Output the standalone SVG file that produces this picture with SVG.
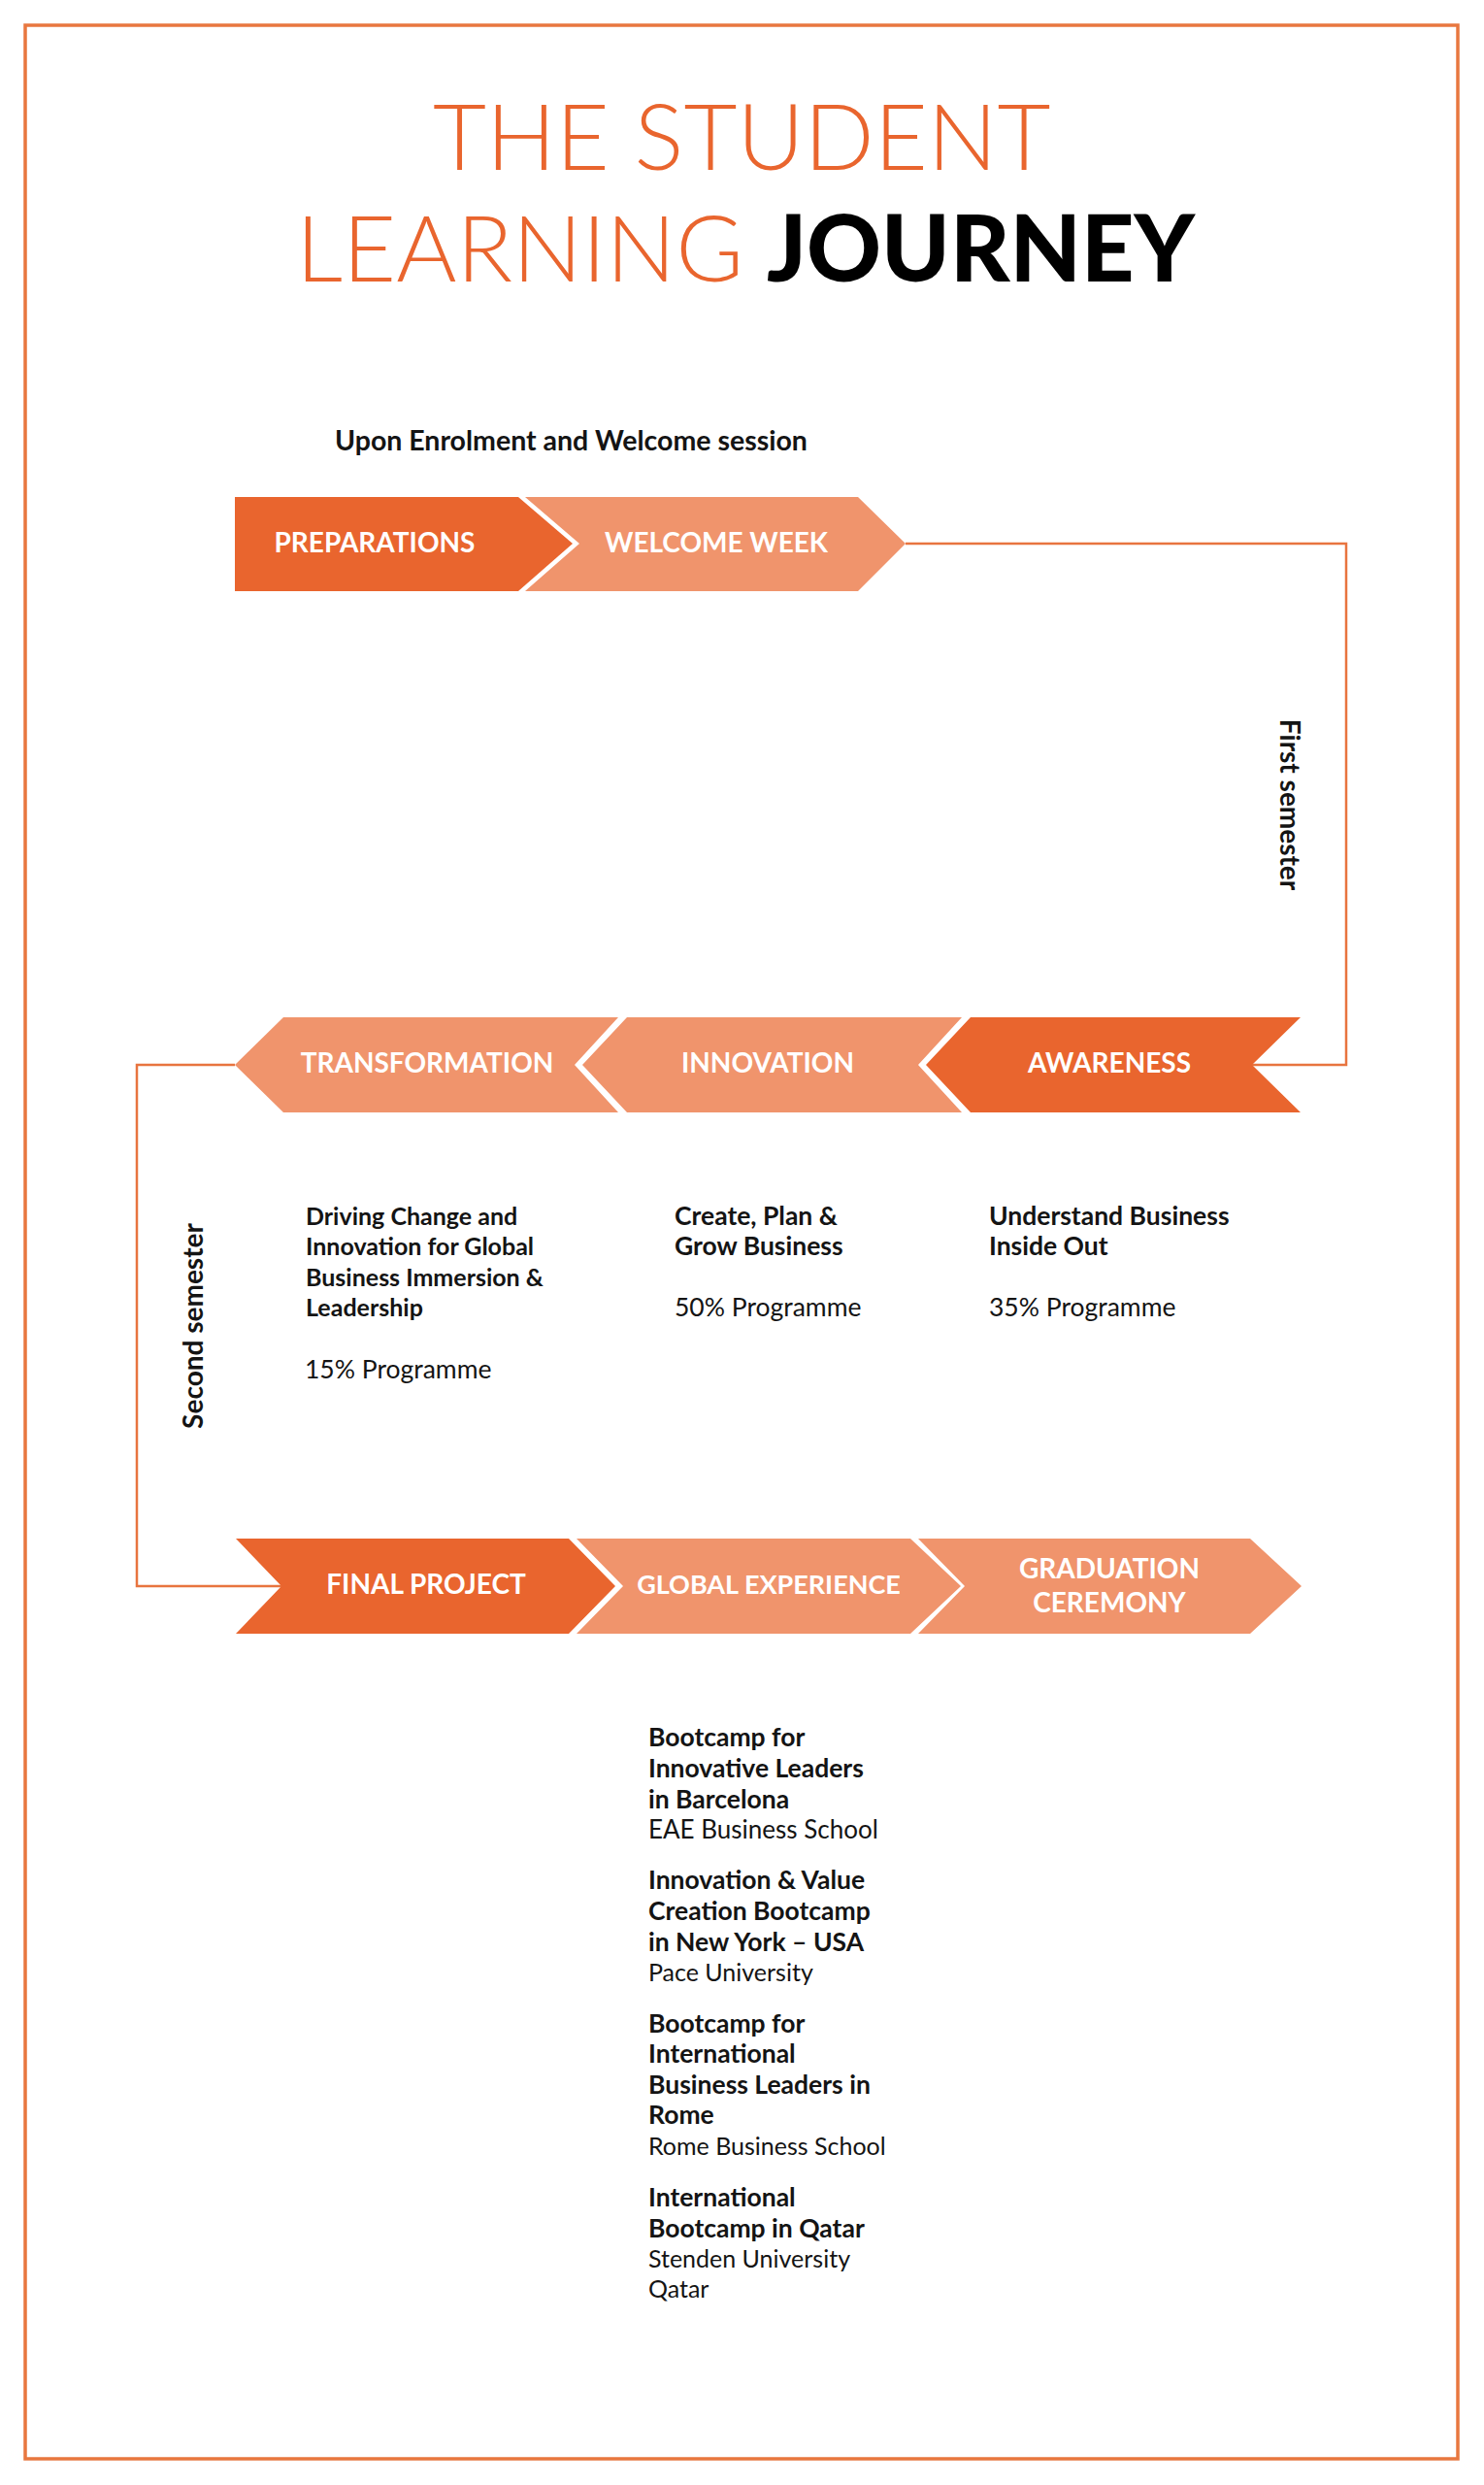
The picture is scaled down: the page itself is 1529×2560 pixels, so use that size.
<svg xmlns="http://www.w3.org/2000/svg" width="1529" height="2560" viewBox="0 0 1529 2560">
<style>
.dark{fill:#E9652E}
.light{fill:#F0946C}
.lbl{font-family:Lato,"Noto Sans",sans-serif;font-weight:700;font-size:28px;fill:#ffffff;text-anchor:middle}
.b{font-family:Lato,"Noto Sans",sans-serif;font-weight:700;font-size:25px;fill:#141414}
.b2{font-family:Lato,"Noto Sans",sans-serif;font-weight:700;font-size:26.5px;fill:#141414}
.r{font-family:Lato,"Noto Sans",sans-serif;font-weight:400;font-size:25px;fill:#141414}
.r2{font-family:Lato,"Noto Sans",sans-serif;font-weight:400;font-size:26.5px;fill:#141414}
.conn{fill:none;stroke:#E8743F;stroke-width:2.5}
</style>
<rect x="26" y="26" width="1476" height="2507" fill="#ffffff" stroke="#E8773F" stroke-width="3.5"/>
<g id="title">
<text x="446" y="175" font-family="Lato,'Noto Sans',sans-serif" font-weight="300" font-size="95" fill="#E9652E">THE STUDENT</text>
<text x="305" y="290" font-family="Lato,'Noto Sans',sans-serif" font-weight="300" font-size="95" fill="#E9652E">LEARNING</text>
<text x="790" y="290" font-family="Lato,'Noto Sans',sans-serif" font-weight="900" font-size="95" fill="#000000">JOURNEY</text>
</g>
<text id="enrolment" class="b" x="345" y="464" style="font-size:28.5px">Upon Enrolment and Welcome session</text>
<g id="connectors">
<path class="conn" d="M933,560 H1387 V1097 H1290"/>
<path class="conn" d="M242,1097 H141 V1634 H290"/>
</g>
<g id="preparations">
<polygon class="dark" points="242,512 534,512 590,560 534,609 242,609"/>
<text class="lbl" x="386" y="569">PREPARATIONS</text>
</g>
<g id="welcome-week">
<polygon class="light" points="541,512 884,512 933,560 884,609 541,609 597,560"/>
<text class="lbl" x="738" y="569">WELCOME WEEK</text>
</g>
<g id="transformation">
<polygon class="light" points="292,1048 637,1048 592,1097 637,1146 292,1146 242,1097"/>
<text class="lbl" x="440" y="1105">TRANSFORMATION</text>
</g>
<g id="innovation">
<polygon class="light" points="646,1048 991,1048 946,1097 991,1146 646,1146 600,1097"/>
<text class="lbl" x="791" y="1105">INNOVATION</text>
</g>
<g id="awareness">
<polygon class="dark" points="1000,1048 1340,1048 1290,1097 1340,1146 1000,1146 954,1097"/>
<text class="lbl" x="1143" y="1105">AWARENESS</text>
</g>
<g id="final-project">
<polygon class="dark" points="243,1585 586,1585 634,1634 586,1683 243,1683 290,1634"/>
<text class="lbl" x="439" y="1642">FINAL PROJECT</text>
</g>
<g id="global-experience">
<polygon class="light" points="594,1585 938,1585 990,1634 938,1683 594,1683 642,1634"/>
<text class="lbl" x="792" y="1642" style="font-size:27px">GLOBAL EXPERIENCE</text>
</g>
<g id="graduation-ceremony">
<polygon class="light" points="946,1585 1288,1585 1341,1634 1288,1683 946,1683 994,1634"/>
<text class="lbl" x="1143" y="1626">GRADUATION</text>
<text class="lbl" x="1143" y="1661">CEREMONY</text>
</g>
<text id="first-semester" class="b" text-anchor="middle" style="font-size:28px" transform="translate(1319,829) rotate(90)">First semester</text>
<text id="second-semester" class="b" text-anchor="middle" style="font-size:28px" transform="translate(209,1366) rotate(-90)">Second semester</text>
<g id="transformation-desc">
<text class="b" x="315" y="1262">Driving Change and</text>
<text class="b" x="315" y="1293">Innovation for Global</text>
<text class="b" x="315" y="1325">Business Immersion &amp;</text>
<text class="b" x="315" y="1356">Leadership</text>
<text class="r2" x="314" y="1420">15% Programme</text>
</g>
<g id="innovation-desc">
<text class="b2" x="695" y="1262">Create, Plan &amp;</text>
<text class="b2" x="695" y="1293">Grow Business</text>
<text class="r2" x="695" y="1356">50% Programme</text>
</g>
<g id="awareness-desc">
<text class="b2" x="1019" y="1262">Understand Business</text>
<text class="b2" x="1019" y="1293">Inside Out</text>
<text class="r2" x="1019" y="1356">35% Programme</text>
</g>
<g id="global-desc">
<text class="b2" x="668" y="1799">Bootcamp for</text>
<text class="b2" x="668" y="1831">Innovative Leaders</text>
<text class="b2" x="668" y="1863">in Barcelona</text>
<text class="r" x="668" y="1894" style="font-size:26px">EAE Business School</text>
<text class="b2" x="668" y="1946">Innovation &amp; Value</text>
<text class="b2" x="668" y="1978">Creation Bootcamp</text>
<text class="b2" x="668" y="2010">in New York – USA</text>
<text class="r" x="668" y="2041">Pace University</text>
<text class="b2" x="668" y="2094">Bootcamp for</text>
<text class="b2" x="668" y="2125">International</text>
<text class="b2" x="668" y="2157">Business Leaders in</text>
<text class="b2" x="668" y="2188">Rome</text>
<text class="r" x="668" y="2220">Rome Business School</text>
<text class="b2" x="668" y="2273">International</text>
<text class="b2" x="668" y="2305">Bootcamp in Qatar</text>
<text class="r" x="668" y="2336">Stenden University</text>
<text class="r" x="668" y="2367">Qatar</text>
</g>
</svg>
